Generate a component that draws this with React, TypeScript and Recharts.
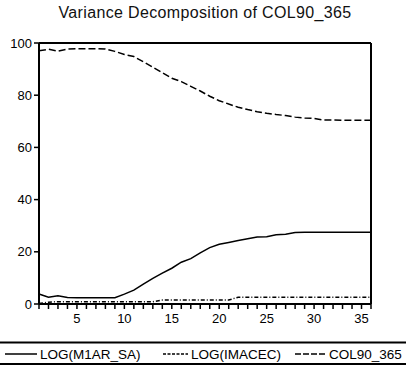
import { LineChart, Line, XAxis, YAxis, ReferenceLine } from 'recharts';

const periods = [1, 2, 3, 4, 5, 6, 7, 8, 9, 10, 11, 12, 13, 14, 15, 16, 17, 18, 19, 20, 21, 22, 23, 24, 25, 26, 27, 28, 29, 30, 31, 32, 33, 34, 35, 36];

const m1ar = [3.8, 2.6, 3.2, 2.5, 2.4, 2.4, 2.4, 2.4, 2.4, 3.8, 5.3, 7.6, 9.8, 11.8, 13.7, 16.0, 17.4, 19.6, 21.6, 22.9, 23.6, 24.3, 25.0, 25.7, 25.8, 26.5, 26.7, 27.4, 27.5, 27.5, 27.5, 27.5, 27.5, 27.5, 27.5, 27.5];
const imacec = [0.2, 0.7, 0.9, 0.9, 0.9, 0.9, 0.9, 0.9, 0.9, 0.9, 0.9, 0.9, 0.9, 1.5, 1.5, 1.5, 1.5, 1.5, 1.5, 1.5, 1.5, 2.6, 2.6, 2.6, 2.6, 2.6, 2.6, 2.6, 2.6, 2.6, 2.6, 2.6, 2.6, 2.6, 2.6, 2.6];
const col90 = [97.0, 97.6, 96.9, 97.7, 97.8, 97.8, 97.8, 97.7, 96.8, 95.6, 94.8, 92.8, 90.7, 88.6, 86.5, 85.2, 83.4, 81.6, 79.6, 77.9, 76.6, 75.4, 74.5, 73.7, 73.1, 72.6, 72.2, 71.6, 71.3, 71.1, 70.5, 70.5, 70.4, 70.4, 70.4, 70.4];

const yTicks = [0, 20, 40, 60, 80, 100];
const seriesNames = ['LOG(M1AR_SA)', 'LOG(IMACEC)', 'COL90_365'];

const data = periods.map((p, i) => ({ period: p, m1ar: m1ar[i], imacec: imacec[i], col90: col90[i] }));

const font = 'Arial, "Liberation Sans", sans-serif';

export default function App() {
  return (
    <div style={{ position: 'absolute', left: 0, top: 0, width: 406, height: 368, background: '#fff', fontFamily: font }}>
      <div style={{ position: 'absolute', left: 0, top: 4, width: 410, textAlign: 'center', fontSize: 16, letterSpacing: 0.35, color: '#111' }}>
        Variance Decomposition of COL90_365
      </div>
      <LineChart width={406} height={334} data={data} margin={{ top: 43, right: 35, left: 0, bottom: 0 }}>
        <XAxis
          dataKey="period"
          type="number"
          domain={[1, 36]}
          ticks={periods}
          interval={0}
          tickFormatter={(v: number) => (v % 5 === 0 ? String(v) : '')}
          height={30}
          tickSize={5}
          tickMargin={5}
          axisLine={{ stroke: '#000', strokeWidth: 2 }}
          tickLine={{ stroke: '#000', strokeWidth: 1.5 }}
          tick={{ fill: '#000', fontSize: 13, fontFamily: font }}
        />
        <YAxis
          type="number"
          domain={[0, 100]}
          ticks={yTicks}
          width={39}
          tickSize={5}
          axisLine={{ stroke: '#000', strokeWidth: 2 }}
          tickLine={{ stroke: '#000', strokeWidth: 1.5 }}
          tick={{ fill: '#000', fontSize: 13, fontFamily: font }}
        />
        <ReferenceLine y={100} stroke="#000" strokeWidth={2} ifOverflow="visible" />
        <ReferenceLine x={36} stroke="#000" strokeWidth={2} ifOverflow="visible" />
        <Line dataKey="m1ar" stroke="#000" strokeWidth={1.5} dot={false} isAnimationActive={false} />
        <Line dataKey="imacec" stroke="#000" strokeWidth={1.5} strokeDasharray="4 2 1 2" dot={false} isAnimationActive={false} />
        <Line dataKey="col90" stroke="#000" strokeWidth={1.5} strokeDasharray="7 3" dot={false} isAnimationActive={false} />
      </LineChart>
      <svg width={406} height={34} style={{ position: 'absolute', left: 0, top: 334 }}>
        <line x1={0} x2={406} y1={8.5} y2={8.5} stroke="#000" strokeWidth={2} />
        <line x1={0} x2={406} y1={30} y2={30} stroke="#000" strokeWidth={2} />
        <line x1={5} x2={37} y1={20} y2={20} stroke="#000" strokeWidth={1.5} />
        <text x={40} y={24.5} fontSize={13.5} fontFamily={font} fill="#000">{seriesNames[0]}</text>
        <line x1={163} x2={188} y1={20} y2={20} stroke="#000" strokeWidth={1.5} strokeDasharray="3 1.5" />
        <text x={191} y={24.5} fontSize={13.5} fontFamily={font} fill="#000">{seriesNames[1]}</text>
        <line x1={295} x2={326} y1={20} y2={20} stroke="#000" strokeWidth={1.5} strokeDasharray="6 2" />
        <text x={329} y={24.5} fontSize={13.5} fontFamily={font} fill="#000">{seriesNames[2]}</text>
      </svg>
    </div>
  );
}
